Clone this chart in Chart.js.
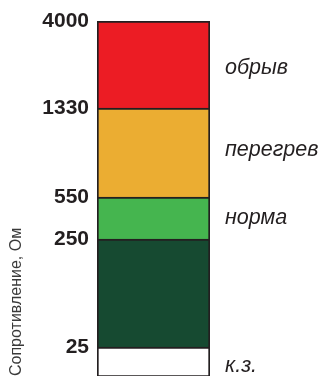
<!DOCTYPE html>
<html>
<head>
<meta charset="utf-8">
<script src="https://cdn.jsdelivr.net/npm/chart.js@4"></script>
<style>
  html, body { margin: 0; padding: 0; background: #fff; overflow: hidden; }
  canvas { display: block; }
</style>
</head>
<body>
<canvas id="gauge" width="321" height="376"></canvas>
<script>
// Bands of the resistance gauge, bottom to top (heights in gauge units)
const bandNames = ['к.з.', '', 'норма', 'перегрев', 'обрыв'];
const bandHeights = [29, 108, 42, 89, 87];
const bandColors = ['#ffffff', '#164a31', '#45b54f', '#ebad32', '#ec1c24'];

// Tick positions on the gauge and their resistance labels
const tickPositions = [29, 137, 179, 268, 355];
const tickLabels = ['25', '250', '550', '1330', '4000'];

const axisTitle = 'Сопротивление, Ом';
const ink = '#231f20';
// small vertical nudges (px) for the band names
const nameNudge = [5, 0, 0, -2, 4];

// writes each band's name to the right of the bar
const bandLabelPlugin = {
    id: 'bandLabels',
    afterDatasetsDraw: (chart) => {
        const ctx = chart.ctx;
        ctx.save();
        ctx.font = 'italic 21.5px "Liberation Sans", Arial, sans-serif';
        ctx.fillStyle = ink;
        ctx.textAlign = 'left';
        ctx.textBaseline = 'middle';
        chart.data.datasets.forEach((ds, i) => {
            if (!ds.label) return;
            const bar = chart.getDatasetMeta(i).data[0];
            const y = (bar.y + bar.base) / 2 + nameNudge[i];
            ctx.fillText(ds.label, chart.chartArea.right + 15, y);
        });
        ctx.restore();
    }
};

const ctx = document.getElementById('gauge').getContext('2d');
new Chart(ctx, {
    type: 'bar',
    data: {
        labels: [''],
        datasets: bandHeights.map((h, i) => ({
            label: bandNames[i],
            data: [h],
            backgroundColor: bandColors[i],
            borderColor: ink,
            borderWidth: { top: 2, left: 2, right: 2, bottom: i === 0 ? 1 : 0 },
            borderSkipped: false,
            barPercentage: 1,
            categoryPercentage: 1
        }))
    },
    options: {
        responsive: false,
        animation: false,
        layout: { padding: { top: 21, right: 111, bottom: 0, left: 0 } },
        plugins: {
            legend: { display: false },
            tooltip: { enabled: false }
        },
        scales: {
            x: { stacked: true, display: false },
            y: {
                stacked: true,
                min: 0,
                max: 355,
                grid: { display: false },
                border: { display: false },
                afterBuildTicks: (scale) => {
                    scale.ticks = tickPositions.map(v => ({ value: v }));
                },
                afterFit: (scale) => {
                    scale.width = 97;
                    scale.paddingTop = 0;
                    scale.paddingBottom = 0;
                },
                ticks: {
                    padding: 0,
                    color: ink,
                    font: { family: '"Liberation Sans", Arial, sans-serif', size: 21, weight: 'bold' },
                    callback: (v) => tickLabels[tickPositions.indexOf(v)]
                },
                title: {
                    display: true,
                    text: axisTitle,
                    align: 'start',
                    color: '#3a3a3a',
                    padding: { top: 7, bottom: 0 },
                    font: { family: '"Liberation Sans", Arial, sans-serif', size: 16 }
                }
            }
        }
    },
    plugins: [bandLabelPlugin]
});
</script>
</body>
</html>
